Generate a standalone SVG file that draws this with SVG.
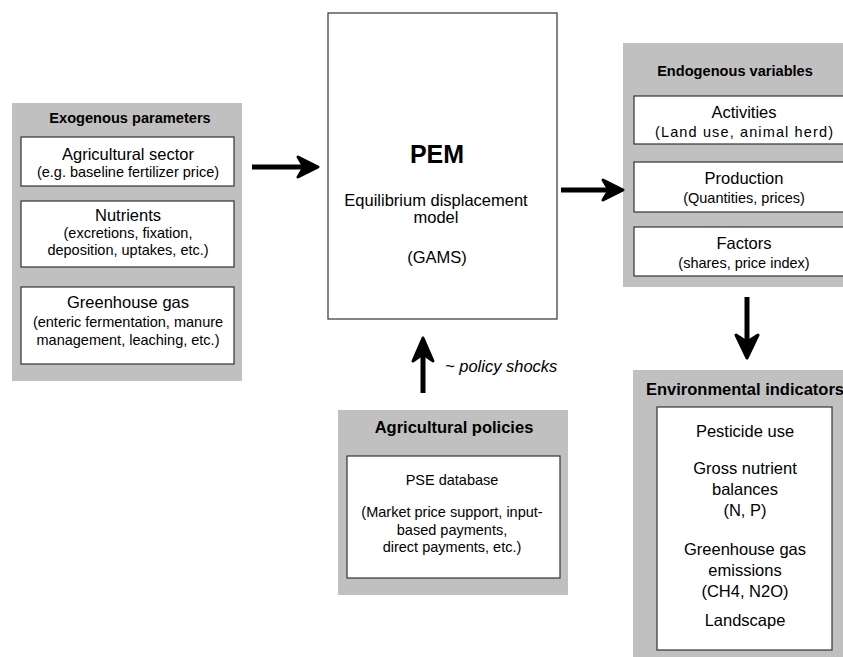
<svg xmlns="http://www.w3.org/2000/svg" width="843" height="657" viewBox="0 0 843 657">
<style>
  text { font-family: "Liberation Sans", Arial, Helvetica, sans-serif; fill: #000; }
  .panel { fill: #c0c0c0; stroke: none; }
  .box { fill: #fff; stroke: #333; stroke-width: 1.2; }
  .title { font-weight: bold; text-anchor: middle; }
  .t146 { font-size: 14.6px; }
  .t165 { font-size: 16.5px; }
  .head { font-size: 16.5px; text-anchor: middle; }
  .sub { font-size: 14.5px; text-anchor: middle; }
  .line { stroke: #000; stroke-width: 5; fill: none; }
  .head-a { fill: #000; stroke: #000; stroke-width: 3; stroke-linejoin: round; }
  .lbl { font-size: 16.5px; font-style: italic; }
</style>
<rect width="843" height="657" fill="#fff"/>

<g id="exogenous">
  <rect class="panel" x="12" y="103" width="230" height="278"/>
  <text class="title t146" x="130" y="123">Exogenous parameters</text>
  <rect class="box" x="21" y="137" width="213" height="49"/>
  <text class="head" x="128" y="160">Agricultural sector</text>
  <text class="sub" x="128" y="177">(e.g. baseline fertilizer price)</text>
  <rect class="box" x="21" y="201" width="213" height="66"/>
  <text class="head" x="128" y="221">Nutrients</text>
  <text class="sub" x="128" y="238">(excretions, fixation,</text>
  <text class="sub" x="128" y="255">deposition, uptakes, etc.)</text>
  <rect class="box" x="21" y="287" width="213" height="77"/>
  <text class="head" x="128" y="308">Greenhouse gas</text>
  <text class="sub" x="128" y="326.5">(enteric fermentation, manure</text>
  <text class="sub" x="128" y="345">management, leaching, etc.)</text>
</g>

<g id="pem">
  <rect class="box" x="328" y="13" width="229" height="306"/>
  <text x="437" y="163" font-size="25" font-weight="bold" text-anchor="middle">PEM</text>
  <text class="head" x="436" y="206">Equilibrium displacement</text>
  <text class="head" x="436" y="223">model</text>
  <text class="head" x="437" y="263">(GAMS)</text>
</g>

<g id="endogenous">
  <rect class="panel" x="623" y="43" width="250" height="244"/>
  <text class="title t146" x="735" y="76">Endogenous variables</text>
  <rect class="box" x="634" y="96" width="230" height="48"/>
  <text class="head" x="744" y="117.5">Activities</text>
  <text class="sub" x="744" y="136.5" textLength="178" lengthAdjust="spacing">(Land use, animal herd)</text>
  <rect class="box" x="634" y="162" width="230" height="50"/>
  <text class="head" x="744" y="184">Production</text>
  <text class="sub" x="744" y="203">(Quantities, prices)</text>
  <rect class="box" x="634" y="227" width="230" height="49"/>
  <text class="head" x="744" y="249">Factors</text>
  <text class="sub" x="744" y="267.5">(shares, price index)</text>
</g>

<g id="environmental">
  <rect class="panel" x="633" y="370" width="240" height="300"/>
  <text x="646" y="395" font-size="16.5" font-weight="bold">Environmental indicators</text>
  <rect class="box" x="657" y="407" width="175" height="243"/>
  <text class="head" x="745" y="437">Pesticide use</text>
  <text class="head" x="745" y="474">Gross nutrient</text>
  <text class="head" x="745" y="495">balances</text>
  <text class="head" x="745" y="516">(N, P)</text>
  <text class="head" x="745" y="555">Greenhouse gas</text>
  <text class="head" x="745" y="576">emissions</text>
  <text class="head" x="745" y="597">(CH4, N2O)</text>
  <text class="head" x="745" y="626">Landscape</text>
</g>

<g id="policies">
  <rect class="panel" x="338" y="410" width="230" height="185"/>
  <text class="title t165" x="454" y="433">Agricultural policies</text>
  <rect class="box" x="347" y="456" width="213" height="122"/>
  <text class="sub" x="452" y="485">PSE database</text>
  <text class="sub" x="452" y="517">(Market price support, input-</text>
  <text class="sub" x="452" y="535">based payments,</text>
  <text class="sub" x="452" y="552">direct payments, etc.)</text>
</g>

<g id="connectors">
  <line class="line" x1="252" y1="167" x2="310" y2="167"/>
  <path class="head-a" d="M318,167 L298,157 L304,167 L298,177 Z"/>
  <line class="line" x1="561" y1="190" x2="615" y2="190"/>
  <path class="head-a" d="M623,190 L603,180 L609,190 L603,200 Z"/>
  <line class="line" x1="747" y1="297" x2="747" y2="350"/>
  <path class="head-a" d="M747,358 L736,335 L747,342 L758,335 Z"/>
  <line class="line" x1="423" y1="393" x2="423" y2="346"/>
  <path class="head-a" d="M423,338 L413,361 L423,354 L433,361 Z"/>
  <text class="lbl" x="445" y="372">~ policy shocks</text>
</g>
</svg>
